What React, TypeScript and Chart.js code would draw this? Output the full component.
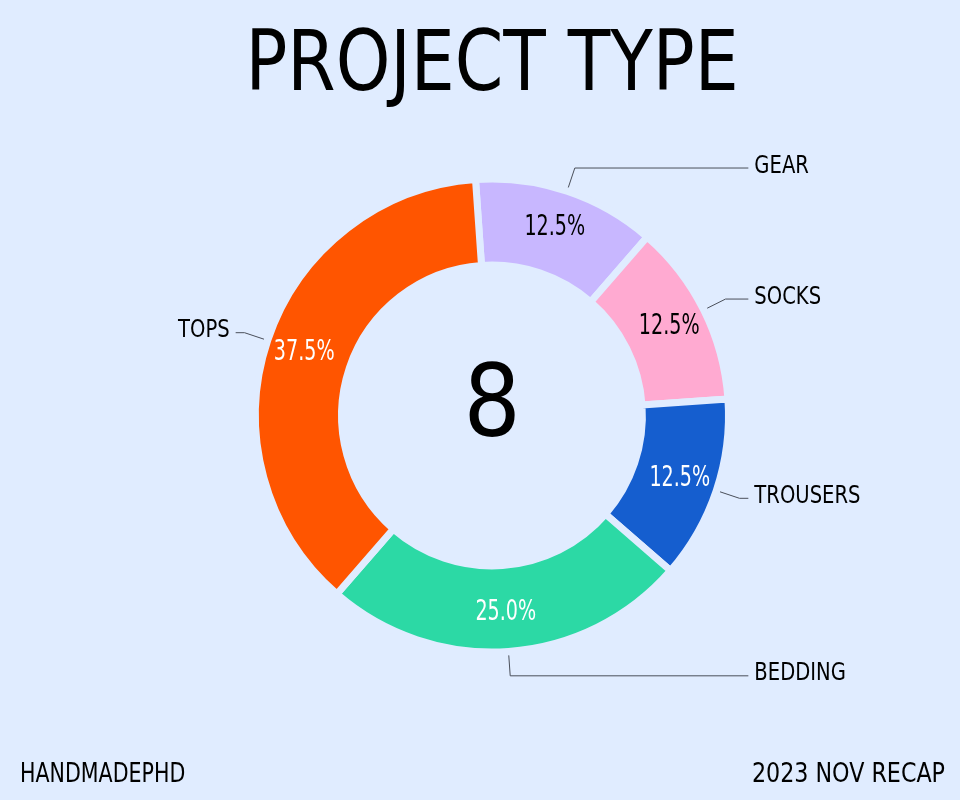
import React, { useEffect, useRef } from 'react';
import { Chart, registerables } from 'chart.js';

Chart.register(...registerables);

// ---- data ----
const categories: string[] = ['GEAR', 'SOCKS', 'TROUSERS', 'BEDDING', 'TOPS'];
const counts: number[] = [1, 1, 1, 2, 3];
const sliceColors: string[] = ['#C8B7FF', '#FFAAD1', '#155ECF', '#2CD9A5', '#FF5500'];
const pctTextColors: string[] = ['#000000', '#000000', '#FFFFFF', '#FFFFFF', '#FFFFFF'];
const titleText = 'PROJECT TYPE';
const footerLeft = 'HANDMADEPHD';
const footerRight = '2023 NOV RECAP';

// ---- style ----
const BG = '#E0ECFF';
const FONT = '"Liberation Sans Narrow", "DejaVu Sans Condensed", "Roboto Condensed", sans-serif';
const BORDER = 7;

function drawText(
  ctx: CanvasRenderingContext2D,
  text: string,
  x: number,
  y: number,
  align: CanvasTextAlign,
  size: number,
  sx: number,
  color: string
) {
  ctx.save();
  ctx.translate(x, y);
  ctx.scale(sx, 1);
  ctx.fillStyle = color;
  ctx.font = `${size}px ${FONT}`;
  ctx.textAlign = align;
  ctx.textBaseline = 'middle';
  ctx.fillText(text, 0, 0);
  ctx.restore();
}

const overlayPlugin = {
  id: 'overlay',
  beforeDraw(chart: any) {
    const ctx = chart.ctx;
    ctx.save();
    ctx.fillStyle = BG;
    ctx.fillRect(0, 0, chart.width, chart.height);
    ctx.restore();
  },
  afterDatasetsDraw(chart: any) {
    const ctx = chart.ctx;
    const meta = chart.getDatasetMeta(0);
    const data: number[] = chart.data.datasets[0].data;
    const total = data.reduce((a, b) => a + b, 0);
    let cx = 0;
    let cy = 0;
    meta.data.forEach((arc: any, i: number) => {
      const p = arc.getProps(['x', 'y', 'startAngle', 'endAngle', 'outerRadius', 'innerRadius'], true);
      cx = p.x;
      cy = p.y;
      const R = p.outerRadius - BORDER / 2;
      const mid = (p.startAngle + p.endAngle) / 2;
      const c = Math.cos(mid);
      const s = Math.sin(mid);

      // percentage label
      const pr = R * 0.85;
      drawText(
        ctx,
        ((data[i] / total) * 100).toFixed(1) + '%',
        p.x + c * pr,
        p.y + s * pr,
        'center',
        28,
        0.76,
        pctTextColors[i]
      );

      // leader line
      const sx = p.x + c * R * 1.032;
      const sy = p.y + s * R * 1.032;
      const ex = p.x + c * R * 1.12;
      const ey = p.y + s * R * 1.12;
      const right = c >= 0;
      const tx = p.x + (right ? 1 : -1) * R * 1.126;
      const lx = tx + (right ? -6 : 6);
      ctx.save();
      ctx.strokeStyle = '#4a4f5a';
      ctx.lineWidth = 1;
      ctx.beginPath();
      ctx.moveTo(sx, sy);
      ctx.lineTo(ex, ey);
      ctx.lineTo(lx, ey);
      ctx.stroke();
      ctx.restore();

      drawText(ctx, categories[i], tx, ey - 2, right ? 'left' : 'right', 25, 0.87, '#000000');
    });

    // center total
    drawText(ctx, String(total), cx, cy - 5, 'center', 100, 1, '#000000');

    // title
    drawText(ctx, titleText, cx, 68, 'center', 84, 0.92, '#000000');

    // footer
    drawText(ctx, footerLeft, 20, 775, 'left', 26, 0.88, '#000000');
    drawText(ctx, footerRight, 945, 775, 'right', 26, 0.95, '#000000');
  },
};

export default function App() {
  const ref = useRef<HTMLCanvasElement | null>(null);

  useEffect(() => {
    if (!ref.current) return;
    const chart = new Chart(ref.current, {
      type: 'doughnut',
      data: {
        labels: categories,
        datasets: [
          {
            data: counts,
            backgroundColor: sliceColors,
            borderColor: BG,
            borderWidth: BORDER,
            borderAlign: 'center',
            borderJoinStyle: 'miter',
            hoverOffset: 0,
          } as any,
        ],
      },
      options: {
        responsive: false,
        animation: false,
        events: [],
        rotation: -4,
        cutout: '63.6%',
        layout: { padding: { left: 252, top: 175.5, right: 228, bottom: 144.5 } },
        plugins: {
          legend: { display: false },
          tooltip: { enabled: false },
          title: { display: false },
        },
      } as any,
      plugins: [overlayPlugin],
    });
    return () => chart.destroy();
  }, []);

  return (
    <div style={{ position: 'fixed', left: 0, top: 0, width: 960, height: 800, background: BG }}>
      <canvas ref={ref} width={960} height={800} style={{ display: 'block', width: 960, height: 800 }} />
    </div>
  );
}
